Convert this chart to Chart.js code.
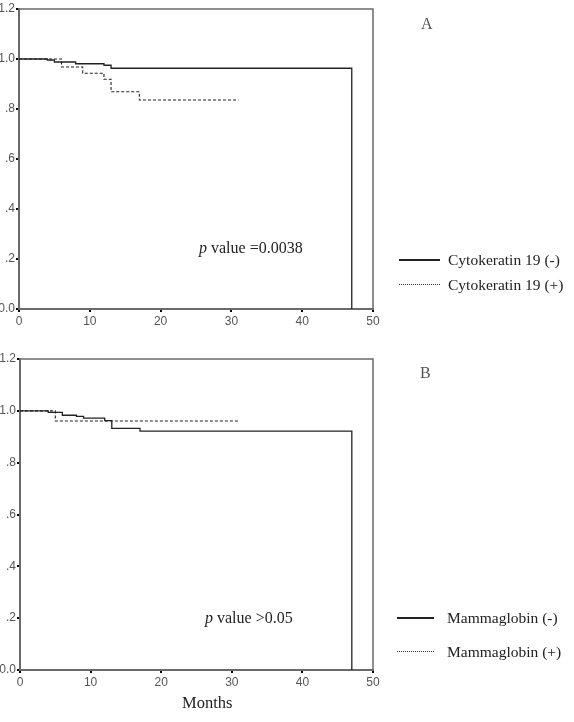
<!DOCTYPE html>
<html>
<head>
<meta charset="utf-8">
<script src="https://cdn.jsdelivr.net/npm/chart.js@4.4.1/dist/chart.umd.min.js"></script>
<style>
  html, body { margin: 0; padding: 0; background: #fff; }
  #wrap { position: relative; width: 574px; height: 722px; overflow: hidden; }
  canvas { position: absolute; left: 0; }
  .txt { position: absolute; font-family: 'Liberation Serif', 'Times New Roman', serif; color: #222; white-space: nowrap; line-height: 1; }
  .lg-line { position: absolute; height: 0; }
</style>
</head>
<body>
<div id="wrap">
  <canvas id="chartA" width="574" height="340" style="top:0"></canvas>
  <canvas id="chartB" width="574" height="382" style="top:340px"></canvas>

  <div class="txt" style="left:421px; top:16px; font-size:16px; color:#555;">A</div>
  <div class="txt" style="left:199px; top:240px; font-size:16px;"><i>p</i> value =0.0038</div>
  <div class="lg-line" style="left:399px; top:259px; width:41px; border-top:2px solid #222;"></div>
  <div class="txt" style="left:448px; top:252px; font-size:15.5px;">Cytokeratin 19 (-)</div>
  <div class="lg-line" style="left:399px; top:284px; width:41px; border-top:1px dotted #333;"></div>
  <div class="txt" style="left:448px; top:277px; font-size:15.5px;">Cytokeratin 19 (+)</div>

  <div class="txt" style="left:420px; top:365px; font-size:16px; color:#555;">B</div>
  <div class="txt" style="left:205px; top:610px; font-size:16px;"><i>p</i> value &gt;0.05</div>
  <div class="lg-line" style="left:397px; top:617px; width:37px; border-top:2px solid #222;"></div>
  <div class="txt" style="left:447px; top:610px; font-size:15.5px;">Mammaglobin (-)</div>
  <div class="lg-line" style="left:397px; top:651px; width:37px; border-top:1px dotted #333;"></div>
  <div class="txt" style="left:447px; top:644px; font-size:15.5px;">Mammaglobin (+)</div>

  <div class="txt" style="left:182px; top:695px; font-size:16.5px;">Months</div>
</div>

<script>
'use strict';

// ── Axis ticks ───────────────────────────────────────────────────────────────
const monthTicks      = [0, 10, 20, 30, 40, 50];
const survTicks       = [0, 0.2, 0.4, 0.6, 0.8, 1.0, 1.2];
const survTickLabels  = ['0.0', '.2', '.4', '.6', '.8', '1.0', '1.2'];

// ── Panel A: Cytokeratin 19 (KM steps) ──────────────────────────────────────
const ck19NegMonths = [0, 4, 5, 8, 12, 13, 47];
const ck19NegSurv   = [1.0, 0.996, 0.988, 0.981, 0.975, 0.963, 0];
const ck19PosMonths = [0, 6, 9, 12, 13, 17, 31];
const ck19PosSurv   = [1.0, 0.968, 0.943, 0.919, 0.869, 0.836, 0.836];

// ── Panel B: Mammaglobin ─────────────────────────────────────────────────────
const mamNegMonths = [0, 4, 6, 8, 9, 12, 13, 17, 47];
const mamNegSurv   = [1.0, 0.994, 0.983, 0.979, 0.972, 0.962, 0.932, 0.922, 0];
const mamPosMonths = [0, 5, 31];
const mamPosSurv   = [1.0, 0.961, 0.961];

const LINE  = '#222';
const FRAME = '#6a6a6a';
const TICK_TEXT = '#555';

Chart.defaults.font.family = "'Liberation Sans', Arial, sans-serif";
Chart.defaults.font.size = 12;

const toPoints = (xs, ys) => xs.map((x, i) => ({ x, y: ys[i] }));

// top + right sides of the plot frame
const framePlugin = {
  id: 'frame',
  afterDraw(chart) {
    const { ctx, chartArea: a } = chart;
    ctx.save();
    ctx.strokeStyle = FRAME;
    ctx.lineWidth = 1.5;
    ctx.beginPath();
    ctx.moveTo(a.left, a.top);
    ctx.lineTo(a.right, a.top);
    ctx.lineTo(a.right, a.bottom);
    ctx.stroke();
    ctx.restore();
  },
};

const makePanel = (id, neg, pos, cfg) => {
  const ctx = document.getElementById(id).getContext('2d');
  return new Chart(ctx, {
    type: 'line',
    data: {
      datasets: [
        {
          label: 'neg',
          data: neg,
          borderColor: LINE,
          borderWidth: 1.3,
          stepped: 'before',
          pointRadius: 0,
          fill: false,
        },
        {
          label: 'pos',
          data: pos,
          borderColor: LINE,
          borderWidth: 1.1,
          borderDash: [3, 2],
          stepped: 'before',
          pointRadius: 0,
          fill: false,
        },
      ],
    },
    options: {
      responsive: false,
      animation: false,
      devicePixelRatio: 1,
      layout: { padding: { left: 0, top: cfg.top, right: 201, bottom: 0 } },
      plugins: { legend: { display: false }, tooltip: { enabled: false } },
      scales: {
        x: {
          type: 'linear',
          min: 0,
          max: 50,
          afterBuildTicks: (s) => { s.ticks = monthTicks.map(v => ({ value: v })); },
          afterFit: (s) => { s.height = cfg.xHeight; },
          grid: { drawOnChartArea: false, tickLength: 3, color: '#000', lineWidth: 2 },
          border: { color: FRAME, width: 2 },
          ticks: { color: TICK_TEXT, padding: 2, maxRotation: 0 },
        },
        y: {
          type: 'linear',
          min: 0,
          max: 1.2,
          afterBuildTicks: (s) => { s.ticks = survTicks.map(v => ({ value: v })); },
          afterFit: (s) => { s.width = cfg.yWidth; },
          grid: { drawOnChartArea: false, tickLength: 3, color: '#000', lineWidth: 2 },
          border: { color: FRAME, width: 2 },
          ticks: {
            color: TICK_TEXT,
            padding: 1,
            callback: (v) => survTickLabels[survTicks.findIndex(t => Math.abs(t - v) < 1e-6)],
          },
        },
      },
    },
    plugins: [framePlugin],
  });
};

makePanel('chartA',
  toPoints(ck19NegMonths, ck19NegSurv),
  toPoints(ck19PosMonths, ck19PosSurv),
  { top: 9, xHeight: 31, yWidth: 19 });

makePanel('chartB',
  toPoints(mamNegMonths, mamNegSurv),
  toPoints(mamPosMonths, mamPosSurv),
  { top: 19, xHeight: 52, yWidth: 20 });
</script>
</body>
</html>
